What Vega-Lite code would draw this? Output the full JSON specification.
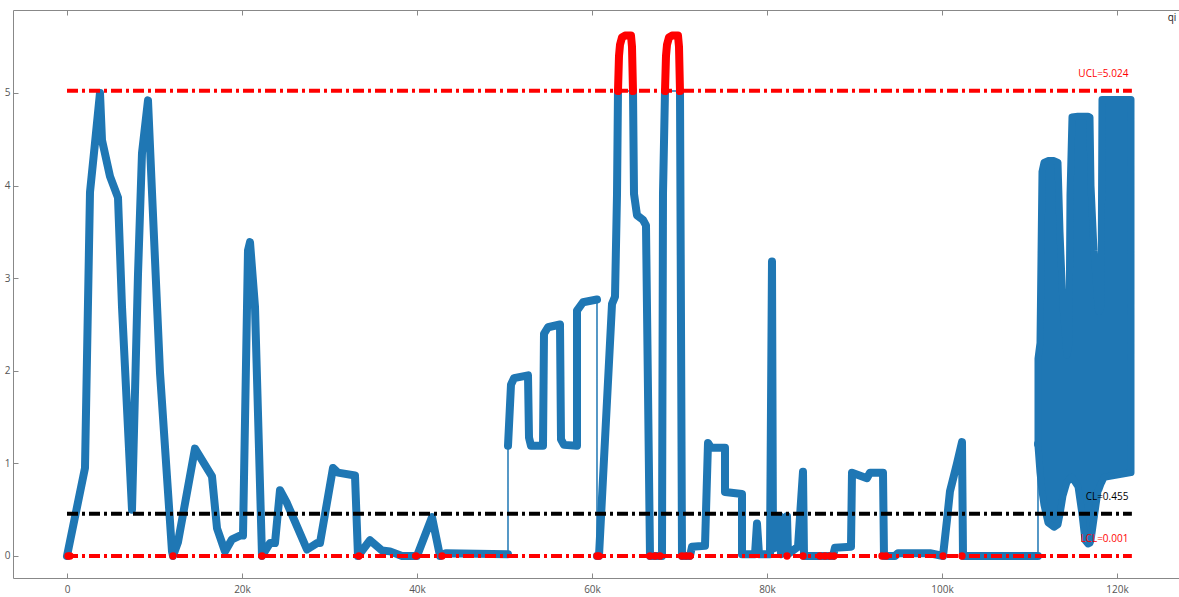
{
  "$schema": "https://vega.github.io/schema/vega-lite/v6.json",
  "width": 1166,
  "height": 568,
  "autosize": {"type": "none"},
  "padding": {"left": 13, "top": 10, "right": 0, "bottom": 19},
  "background": "white",
  "config": {
    "view": {"stroke": null},
    "font": "Open Sans",
    "axis": {"grid": false, "title": null, "labelFontSize": 10, "labelColor": "#555", "domainColor": "#888", "tickColor": "#888", "labelFont": "Open Sans"}
  },
  "datasets": {
    "main": [
      {"i": 1, "x": 0, "y": 0, "seg": "a"},
      {"i": 2, "x": 2057, "y": 0.95, "seg": "a"},
      {"i": 3, "x": 2629, "y": 3.93, "seg": "a"},
      {"i": 4, "x": 3200, "y": 4.46, "seg": "a"},
      {"i": 5, "x": 3771, "y": 5.0, "seg": "a"},
      {"i": 6, "x": 4000, "y": 4.49, "seg": "a"},
      {"i": 7, "x": 4914, "y": 4.1, "seg": "a"},
      {"i": 8, "x": 5829, "y": 3.87, "seg": "a"},
      {"i": 9, "x": 6286, "y": 2.69, "seg": "a"},
      {"i": 10, "x": 7429, "y": 0.5, "seg": "a"},
      {"i": 11, "x": 8114, "y": 3.04, "seg": "a"},
      {"i": 12, "x": 8571, "y": 4.35, "seg": "a"},
      {"i": 13, "x": 9257, "y": 4.92, "seg": "a"},
      {"i": 14, "x": 9714, "y": 3.93, "seg": "a"},
      {"i": 15, "x": 10629, "y": 1.98, "seg": "a"},
      {"i": 16, "x": 12000, "y": 0.05, "seg": "a"},
      {"i": 17, "x": 12114, "y": 0, "seg": "a"},
      {"i": 18, "x": 12686, "y": 0.15, "seg": "a"},
      {"i": 19, "x": 14629, "y": 1.16, "seg": "a"},
      {"i": 20, "x": 16571, "y": 0.86, "seg": "a"},
      {"i": 21, "x": 17143, "y": 0.3, "seg": "a"},
      {"i": 22, "x": 18057, "y": 0.05, "seg": "a"},
      {"i": 23, "x": 18857, "y": 0.18, "seg": "a"},
      {"i": 24, "x": 19771, "y": 0.22, "seg": "a"},
      {"i": 25, "x": 20114, "y": 0.22, "seg": "a"},
      {"i": 26, "x": 20686, "y": 3.3, "seg": "a"},
      {"i": 27, "x": 20914, "y": 3.39, "seg": "a"},
      {"i": 28, "x": 21486, "y": 2.69, "seg": "a"},
      {"i": 29, "x": 22286, "y": 0, "seg": "a"},
      {"i": 30, "x": 23200, "y": 0.14, "seg": "a"},
      {"i": 31, "x": 23771, "y": 0.14, "seg": "a"},
      {"i": 32, "x": 24343, "y": 0.71, "seg": "a"},
      {"i": 33, "x": 25143, "y": 0.57, "seg": "a"},
      {"i": 34, "x": 27429, "y": 0.07, "seg": "a"},
      {"i": 35, "x": 28571, "y": 0.14, "seg": "a"},
      {"i": 36, "x": 28914, "y": 0.14, "seg": "a"},
      {"i": 37, "x": 30400, "y": 0.95, "seg": "a"},
      {"i": 38, "x": 30971, "y": 0.9, "seg": "a"},
      {"i": 39, "x": 32914, "y": 0.87, "seg": "a"},
      {"i": 40, "x": 33257, "y": 0, "seg": "a"},
      {"i": 41, "x": 34629, "y": 0.17, "seg": "a"},
      {"i": 42, "x": 36000, "y": 0.06, "seg": "a"},
      {"i": 43, "x": 36914, "y": 0.05, "seg": "a"},
      {"i": 44, "x": 38286, "y": 0, "seg": "a"},
      {"i": 45, "x": 40000, "y": 0, "seg": "a"},
      {"i": 46, "x": 41714, "y": 0.42, "seg": "a"},
      {"i": 47, "x": 42629, "y": 0, "seg": "a"},
      {"i": 48, "x": 43314, "y": 0.03, "seg": "a"},
      {"i": 49, "x": 50400, "y": 0.02, "seg": "a"},
      {"i": 50, "x": 50400, "y": 1.19, "seg": "b"},
      {"i": 51, "x": 50743, "y": 1.85, "seg": "b"},
      {"i": 52, "x": 51086, "y": 1.92, "seg": "b"},
      {"i": 53, "x": 52686, "y": 1.95, "seg": "b"},
      {"i": 54, "x": 52800, "y": 1.28, "seg": "b"},
      {"i": 55, "x": 53029, "y": 1.19, "seg": "b"},
      {"i": 56, "x": 54400, "y": 1.19, "seg": "b"},
      {"i": 57, "x": 54514, "y": 2.4, "seg": "b"},
      {"i": 58, "x": 54971, "y": 2.47, "seg": "b"},
      {"i": 59, "x": 56343, "y": 2.5, "seg": "b"},
      {"i": 60, "x": 56457, "y": 1.26, "seg": "b"},
      {"i": 61, "x": 56800, "y": 1.2, "seg": "b"},
      {"i": 62, "x": 58286, "y": 1.19, "seg": "b"},
      {"i": 63, "x": 58286, "y": 2.65, "seg": "b"},
      {"i": 64, "x": 58971, "y": 2.74, "seg": "b"},
      {"i": 65, "x": 60571, "y": 2.77, "seg": "b"},
      {"i": 66, "x": 60571, "y": 0, "seg": "c"},
      {"i": 67, "x": 60800, "y": 0, "seg": "c"},
      {"i": 68, "x": 62286, "y": 2.72, "seg": "c"},
      {"i": 69, "x": 62629, "y": 2.8, "seg": "c"},
      {"i": 70, "x": 62857, "y": 3.9, "seg": "c"},
      {"i": 71, "x": 62971, "y": 5.02, "seg": "c"},
      {"i": 72, "x": 64686, "y": 5.02, "seg": "d"},
      {"i": 73, "x": 64800, "y": 3.91, "seg": "d"},
      {"i": 74, "x": 65143, "y": 3.68, "seg": "d"},
      {"i": 75, "x": 65829, "y": 3.63, "seg": "d"},
      {"i": 76, "x": 66171, "y": 3.57, "seg": "d"},
      {"i": 77, "x": 66629, "y": 0, "seg": "d"},
      {"i": 78, "x": 68000, "y": 0, "seg": "d"},
      {"i": 79, "x": 68114, "y": 3.91, "seg": "d"},
      {"i": 80, "x": 68343, "y": 5.02, "seg": "d"},
      {"i": 81, "x": 70057, "y": 5.02, "seg": "e"},
      {"i": 82, "x": 70286, "y": 0, "seg": "e"},
      {"i": 83, "x": 71200, "y": 0, "seg": "e"},
      {"i": 84, "x": 71429, "y": 0.1, "seg": "e"},
      {"i": 85, "x": 72914, "y": 0.11, "seg": "e"},
      {"i": 86, "x": 73257, "y": 1.22, "seg": "e"},
      {"i": 87, "x": 73600, "y": 1.17, "seg": "e"},
      {"i": 88, "x": 75200, "y": 1.17, "seg": "e"},
      {"i": 89, "x": 75200, "y": 0.69, "seg": "e"},
      {"i": 90, "x": 77143, "y": 0.67, "seg": "e"},
      {"i": 91, "x": 77143, "y": 0.02, "seg": "e"},
      {"i": 92, "x": 78629, "y": 0.02, "seg": "e"},
      {"i": 93, "x": 78857, "y": 0.35, "seg": "e"},
      {"i": 94, "x": 79086, "y": 0.02, "seg": "e"},
      {"i": 95, "x": 80343, "y": 0.02, "seg": "e"},
      {"i": 96, "x": 80571, "y": 3.18, "seg": "e"},
      {"i": 97, "x": 80686, "y": 0.08, "seg": "e"},
      {"i": 98, "x": 81143, "y": 0.1, "seg": "e"},
      {"i": 99, "x": 81486, "y": 0.43, "seg": "e"},
      {"i": 100, "x": 81600, "y": 0.02, "seg": "e"},
      {"i": 101, "x": 82286, "y": 0.43, "seg": "e"},
      {"i": 102, "x": 82400, "y": 0.02, "seg": "e"},
      {"i": 103, "x": 83543, "y": 0.1, "seg": "e"},
      {"i": 104, "x": 84114, "y": 0.91, "seg": "e"},
      {"i": 105, "x": 84229, "y": 0, "seg": "e"},
      {"i": 106, "x": 87543, "y": 0, "seg": "e"},
      {"i": 107, "x": 87771, "y": 0.09, "seg": "e"},
      {"i": 108, "x": 89600, "y": 0.1, "seg": "e"},
      {"i": 109, "x": 89714, "y": 0.9, "seg": "e"},
      {"i": 110, "x": 91429, "y": 0.84, "seg": "e"},
      {"i": 111, "x": 91771, "y": 0.9, "seg": "e"},
      {"i": 112, "x": 93257, "y": 0.9, "seg": "e"},
      {"i": 113, "x": 93371, "y": 0, "seg": "e"},
      {"i": 114, "x": 94629, "y": 0, "seg": "e"},
      {"i": 115, "x": 94971, "y": 0.03, "seg": "e"},
      {"i": 116, "x": 98629, "y": 0.03, "seg": "e"},
      {"i": 117, "x": 100114, "y": 0, "seg": "e"},
      {"i": 118, "x": 100571, "y": 0.39, "seg": "e"},
      {"i": 119, "x": 100914, "y": 0.7, "seg": "e"},
      {"i": 120, "x": 101714, "y": 1.0, "seg": "e"},
      {"i": 121, "x": 102286, "y": 1.23, "seg": "e"},
      {"i": 122, "x": 102400, "y": 0, "seg": "e"},
      {"i": 123, "x": 110971, "y": 0, "seg": "e"},
      {"i": 124, "x": 110971, "y": 1.21, "seg": "f"}
    ],
    "above": [
      {"x": 62971, "y": 5.02, "seg": "p1"},
      {"x": 63086, "y": 5.4, "seg": "p1"},
      {"x": 63200, "y": 5.52, "seg": "p1"},
      {"x": 63429, "y": 5.6, "seg": "p1"},
      {"x": 63771, "y": 5.62, "seg": "p1"},
      {"x": 64457, "y": 5.62, "seg": "p1"},
      {"x": 64571, "y": 5.5, "seg": "p1"},
      {"x": 64686, "y": 5.02, "seg": "p1"},
      {"x": 68343, "y": 5.02, "seg": "p2"},
      {"x": 68457, "y": 5.4, "seg": "p2"},
      {"x": 68571, "y": 5.52, "seg": "p2"},
      {"x": 68800, "y": 5.6, "seg": "p2"},
      {"x": 69143, "y": 5.62, "seg": "p2"},
      {"x": 69829, "y": 5.62, "seg": "p2"},
      {"x": 69943, "y": 5.5, "seg": "p2"},
      {"x": 70057, "y": 5.02, "seg": "p2"}
    ],
    "low": [
      {"x": 114, "y": 0}, {"x": 343, "y": 0}, {"x": 12114, "y": 0}, {"x": 22286, "y": 0},
      {"x": 33371, "y": 0}, {"x": 39886, "y": 0}, {"x": 42857, "y": 0}, {"x": 60571, "y": 0},
      {"x": 60800, "y": 0}, {"x": 66629, "y": 0}, {"x": 67200, "y": 0}, {"x": 67771, "y": 0},
      {"x": 70286, "y": 0}, {"x": 70743, "y": 0}, {"x": 71200, "y": 0}, {"x": 82286, "y": 0},
      {"x": 84114, "y": 0}, {"x": 86057, "y": 0}, {"x": 86629, "y": 0}, {"x": 87200, "y": 0},
      {"x": 87657, "y": 0}, {"x": 93143, "y": 0}, {"x": 93600, "y": 0}, {"x": 100114, "y": 0},
      {"x": 102286, "y": 0}
    ],
    "dense": [
      {"x": 110971, "lo": 1.19, "hi": 2.13},
      {"x": 111200, "lo": 0.9, "hi": 2.3},
      {"x": 111429, "lo": 0.7, "hi": 4.15},
      {"x": 111657, "lo": 0.55, "hi": 4.25},
      {"x": 112114, "lo": 0.36, "hi": 4.27},
      {"x": 112800, "lo": 0.31, "hi": 4.27},
      {"x": 113257, "lo": 0.34, "hi": 4.25},
      {"x": 113486, "lo": 0.45, "hi": 3.5},
      {"x": 113829, "lo": 0.65, "hi": 2.7},
      {"x": 114286, "lo": 0.8, "hi": 2.17},
      {"x": 114514, "lo": 0.82, "hi": 2.3},
      {"x": 114629, "lo": 0.84, "hi": 3.9},
      {"x": 114857, "lo": 0.85, "hi": 4.74},
      {"x": 115543, "lo": 0.75, "hi": 4.75},
      {"x": 116000, "lo": 0.45, "hi": 4.75},
      {"x": 116343, "lo": 0.17, "hi": 4.75},
      {"x": 116686, "lo": 0.13, "hi": 4.75},
      {"x": 116914, "lo": 0.14, "hi": 4.74},
      {"x": 117029, "lo": 0.17, "hi": 4.0},
      {"x": 117371, "lo": 0.4, "hi": 3.3},
      {"x": 117829, "lo": 0.7, "hi": 2.7},
      {"x": 117943, "lo": 0.72, "hi": 2.64},
      {"x": 118171, "lo": 0.78, "hi": 2.7},
      {"x": 118286, "lo": 0.8, "hi": 4.93},
      {"x": 118514, "lo": 0.85, "hi": 4.93},
      {"x": 121600, "lo": 0.9, "hi": 4.93}
    ],
    "limits": [
      {"name": "UCL", "y": 5.024, "x1": 0, "x2": 121700},
      {"name": "CL", "y": 0.455, "x1": 0, "x2": 121700},
      {"name": "LCL", "y": 0.001, "x1": 0, "x2": 121700}
    ],
    "labels": [
      {"name": "UCL", "text": "UCL=5.024", "x": 121300, "y": 5.2},
      {"name": "CL", "text": "CL=0.455", "x": 121300, "y": 0.64},
      {"name": "LCL", "text": "LCL=0.001", "x": 121300, "y": 0.18}
    ],
    "legend": [
      {"text": "qi", "x": 126286, "y": 5.81}
    ]
  },
  "resolve": {"axis": {"x": "independent"}},
  "layer": [
    {
      "data": {"name": "main"},
      "mark": {"type": "line", "color": "#1f77b4", "strokeWidth": 1.5},
      "encoding": {
        "x": {"field": "x", "type": "quantitative", "scale": {"domain": [-6171, 127086], "nice": false, "zero": false},
              "axis": {"orient": "bottom", "values": [0, 20000, 40000, 60000, 80000, 100000, 120000], "labelExpr": "datum.value == 0 ? '0' : (datum.value / 1000) + 'k'", "tickSize": -5, "labelPadding": 11}},
        "y": {"field": "y", "type": "quantitative", "scale": {"domain": [-0.2376, 5.896], "nice": false, "zero": false},
              "axis": {"values": [0, 1, 2, 3, 4, 5], "format": "d", "tickSize": -5, "labelPadding": 8}},
        "order": {"field": "i", "type": "quantitative"}
      }
    },
    {
      "data": {"name": "main"},
      "mark": {"type": "line", "color": "#1f77b4", "strokeWidth": 8, "strokeCap": "round", "strokeJoin": "round"},
      "encoding": {
        "x": {"field": "x", "type": "quantitative", "axis": {"orient": "top", "values": [0, 20000, 40000, 60000, 80000, 100000, 120000], "labels": false, "tickSize": -5}},
        "y": {"field": "y", "type": "quantitative"},
        "detail": {"field": "seg"},
        "order": {"field": "i", "type": "quantitative"}
      }
    },
    {
      "data": {"name": "dense"},
      "mark": {"type": "area", "orient": "vertical", "color": "#1f77b4", "stroke": "#1f77b4", "strokeWidth": 7, "strokeJoin": "round"},
      "encoding": {
        "x": {"field": "x", "type": "quantitative", "axis": null},
        "y": {"field": "hi", "type": "quantitative"},
        "y2": {"field": "lo"}
      }
    },
    {
      "data": {"name": "above"},
      "mark": {"type": "line", "color": "#ff0000", "strokeWidth": 8, "strokeCap": "round", "strokeJoin": "round"},
      "encoding": {
        "x": {"field": "x", "type": "quantitative", "axis": null},
        "y": {"field": "y", "type": "quantitative"},
        "detail": {"field": "seg"}
      }
    },
    {
      "data": {"name": "low"},
      "mark": {"type": "point", "filled": true, "shape": "circle", "size": 55, "color": "#ff0000", "opacity": 1},
      "encoding": {
        "x": {"field": "x", "type": "quantitative", "axis": null},
        "y": {"field": "y", "type": "quantitative"}
      }
    },
    {
      "data": {"name": "limits"},
      "mark": {"type": "rule", "strokeWidth": 4, "strokeDash": [11, 4, 3, 4]},
      "encoding": {
        "x": {"field": "x1", "type": "quantitative", "axis": null},
        "x2": {"field": "x2"},
        "y": {"field": "y", "type": "quantitative"},
        "color": {"field": "name", "type": "nominal", "scale": {"domain": ["UCL", "CL", "LCL"], "range": ["#ff0000", "#000000", "#ff0000"]}, "legend": null}
      }
    },
    {
      "data": {"name": "labels"},
      "mark": {"type": "text", "align": "right", "baseline": "middle", "fontSize": 10, "font": "Open Sans"},
      "encoding": {
        "x": {"field": "x", "type": "quantitative", "axis": null},
        "y": {"field": "y", "type": "quantitative"},
        "text": {"field": "text"},
        "color": {"field": "name", "type": "nominal", "scale": {"domain": ["UCL", "CL", "LCL"], "range": ["#ff3333", "#333333", "#ff3333"]}, "legend": null}
      }
    },
    {
      "data": {"name": "legend"},
      "mark": {"type": "text", "align": "center", "baseline": "middle", "fontSize": 10, "font": "Open Sans", "color": "#222"},
      "encoding": {
        "x": {"field": "x", "type": "quantitative", "axis": null},
        "y": {"field": "y", "type": "quantitative"},
        "text": {"field": "text"}
      }
    }
  ]
}
